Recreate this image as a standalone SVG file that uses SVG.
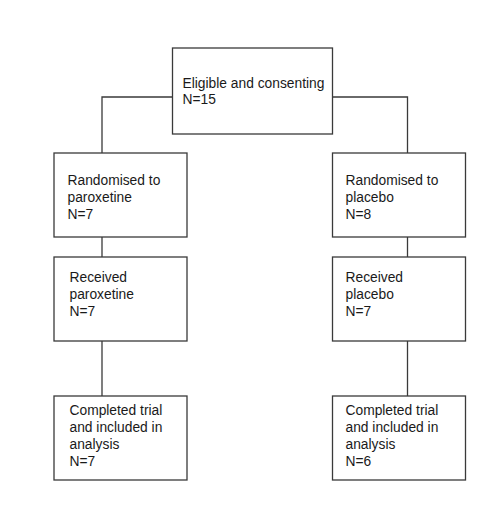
<svg xmlns="http://www.w3.org/2000/svg" width="500" height="505" viewBox="0 0 500 505">
<style>
.box{fill:#fff;stroke:#3a3a3a;stroke-width:1.3}
.ln{fill:none;stroke:#3a3a3a;stroke-width:1.3}
text{font-family:"Liberation Sans",Arial,sans-serif;font-size:13.8px;fill:#1a1a1a}
</style>
<rect width="500" height="505" fill="#fff"/>
<g id="connectors">
<path class="ln" d="M172 97H102V153"/>
<path class="ln" d="M332 97H407.5V153"/>
<path class="ln" d="M102 237V257"/>
<path class="ln" d="M407.5 237V257"/>
<path class="ln" d="M102 341V396"/>
<path class="ln" d="M407.5 341V396"/>
</g>
<g id="n-eligible">
<rect class="box" x="172.5" y="48" width="160" height="86"/>
<text x="182.5" y="88">Eligible and consenting</text>
<text x="182.5" y="104">N=15</text>
</g>
<g id="n-rand-parox">
<rect class="box" x="54" y="153" width="133" height="84"/>
<text x="67.5" y="184.5">Randomised to</text>
<text x="67.5" y="201.5">paroxetine</text>
<text x="67.5" y="218.5">N=7</text>
</g>
<g id="n-rand-plac">
<rect class="box" x="332.5" y="153" width="133" height="84"/>
<text x="345.5" y="184.5">Randomised to</text>
<text x="345.5" y="201.5">placebo</text>
<text x="345.5" y="218.5">N=8</text>
</g>
<g id="n-recv-parox">
<rect class="box" x="54" y="257" width="133" height="84"/>
<text x="69.5" y="282">Received</text>
<text x="69.5" y="299">paroxetine</text>
<text x="69.5" y="316">N=7</text>
</g>
<g id="n-recv-plac">
<rect class="box" x="332.5" y="257" width="133" height="84"/>
<text x="345.5" y="282">Received</text>
<text x="345.5" y="299">placebo</text>
<text x="345.5" y="316">N=7</text>
</g>
<g id="n-comp-parox">
<rect class="box" x="54" y="396" width="133" height="84"/>
<text x="69.5" y="415">Completed trial</text>
<text x="69.5" y="432">and included in</text>
<text x="69.5" y="449">analysis</text>
<text x="69.5" y="466">N=7</text>
</g>
<g id="n-comp-plac">
<rect class="box" x="332.5" y="396" width="133" height="84"/>
<text x="345.5" y="415">Completed trial</text>
<text x="345.5" y="432">and included in</text>
<text x="345.5" y="449">analysis</text>
<text x="345.5" y="466">N=6</text>
</g>
</svg>
